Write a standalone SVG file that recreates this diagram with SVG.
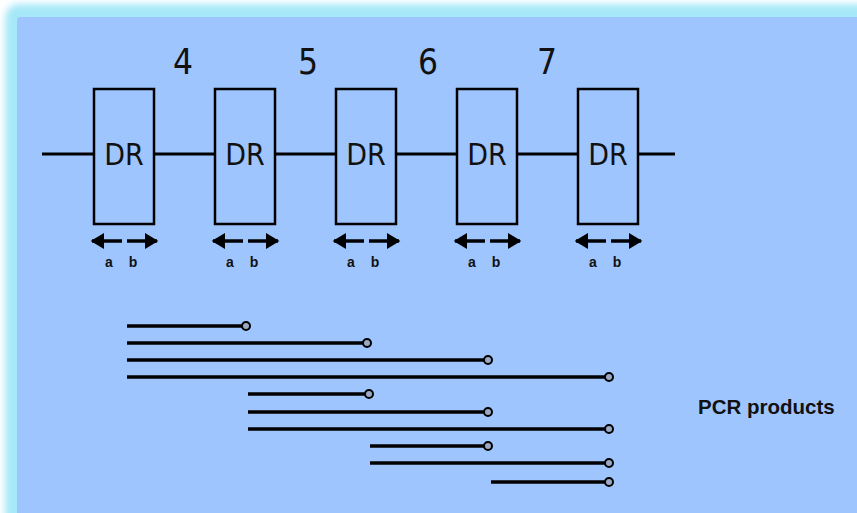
<svg xmlns="http://www.w3.org/2000/svg" width="857" height="513" viewBox="0 0 857 513">
<defs>
<filter id="glow" x="-10%" y="-10%" width="120%" height="120%"><feGaussianBlur stdDeviation="3.5"/></filter>
<marker id="ah" viewBox="0 0 10 12" refX="9" refY="6" markerWidth="4" markerHeight="4.6" orient="auto" markerUnits="strokeWidth"><path d="M0,0 L10,6 L0,12 z" fill="#000"/></marker>
</defs>
<style>
.box{fill:none;stroke:#000;stroke-width:2.5}
.dr{font-family:"DejaVu Sans Condensed","Liberation Sans",sans-serif;font-size:30px;fill:#111;text-anchor:middle}
.num{font-family:"DejaVu Sans Condensed","Liberation Sans",sans-serif;font-size:35px;fill:#111;text-anchor:middle}
.ab{font-family:"Liberation Sans",Arial,sans-serif;font-size:14px;font-weight:bold;fill:#111;text-anchor:middle}
.arr{stroke:#000;stroke-width:3.5;fill:none;marker-end:url(#ah)}
.pcr{stroke:#000;stroke-width:3.5;fill:none}
.end{fill:#9aa9c4;stroke:#000;stroke-width:2}
.lbl{font-family:"Liberation Sans",Arial,sans-serif;font-size:20.5px;font-weight:bold;fill:#111}
</style>
<rect width="857" height="513" fill="#fff"/>
<rect x="5" y="4" width="880" height="540" rx="14" fill="#a6e8f8" filter="url(#glow)"/>
<rect x="17" y="17" width="860" height="520" rx="3" fill="#9fc5fe"/>
<g id="connectors">
<line x1="42" y1="154" x2="94" y2="154" stroke="#000" stroke-width="3"/>
<line x1="154" y1="154" x2="215" y2="154" stroke="#000" stroke-width="3"/>
<line x1="275" y1="154" x2="336" y2="154" stroke="#000" stroke-width="3"/>
<line x1="396" y1="154" x2="457" y2="154" stroke="#000" stroke-width="3"/>
<line x1="517" y1="154" x2="578" y2="154" stroke="#000" stroke-width="3"/>
<line x1="638" y1="154" x2="675" y2="154" stroke="#000" stroke-width="3"/>
</g>
<g id="labels">
<text class="num" x="183" y="74">4</text>
<text class="num" x="308" y="74">5</text>
<text class="num" x="428" y="74">6</text>
<text class="num" x="547" y="74">7</text>
</g>
<g id="dr1"><rect class="box" x="94" y="89" width="60" height="135"/><text class="dr" x="124" y="165">DR</text>
<line class="arr" x1="122" y1="241" x2="92" y2="241"/><line class="arr" x1="127" y1="241" x2="157" y2="241"/>
<text class="ab" x="109" y="267">a</text><text class="ab" x="133" y="267">b</text></g>
<g id="dr2"><rect class="box" x="215" y="89" width="60" height="135"/><text class="dr" x="245" y="165">DR</text>
<line class="arr" x1="243" y1="241" x2="213" y2="241"/><line class="arr" x1="248" y1="241" x2="278" y2="241"/>
<text class="ab" x="230" y="267">a</text><text class="ab" x="254" y="267">b</text></g>
<g id="dr3"><rect class="box" x="336" y="89" width="60" height="135"/><text class="dr" x="366" y="165">DR</text>
<line class="arr" x1="364" y1="241" x2="334" y2="241"/><line class="arr" x1="369" y1="241" x2="399" y2="241"/>
<text class="ab" x="351" y="267">a</text><text class="ab" x="375" y="267">b</text></g>
<g id="dr4"><rect class="box" x="457" y="89" width="60" height="135"/><text class="dr" x="487" y="165">DR</text>
<line class="arr" x1="485" y1="241" x2="455" y2="241"/><line class="arr" x1="490" y1="241" x2="520" y2="241"/>
<text class="ab" x="472" y="267">a</text><text class="ab" x="496" y="267">b</text></g>
<g id="dr5"><rect class="box" x="578" y="89" width="60" height="135"/><text class="dr" x="608" y="165">DR</text>
<line class="arr" x1="606" y1="241" x2="576" y2="241"/><line class="arr" x1="611" y1="241" x2="641" y2="241"/>
<text class="ab" x="593" y="267">a</text><text class="ab" x="617" y="267">b</text></g>
<g id="pcr-products">
<line class="pcr" x1="127" y1="326" x2="242" y2="326" stroke-width="3"/><circle class="end" cx="246" cy="326" r="4"/>
<line class="pcr" x1="127" y1="343" x2="363" y2="343"/><circle class="end" cx="367" cy="343" r="4"/>
<line class="pcr" x1="127" y1="360" x2="484" y2="360"/><circle class="end" cx="488" cy="360" r="4"/>
<line class="pcr" x1="127" y1="377" x2="605" y2="377"/><circle class="end" cx="609" cy="377" r="4"/>
<line class="pcr" x1="248" y1="394" x2="365" y2="394" stroke-width="3"/><circle class="end" cx="369" cy="394" r="4"/>
<line class="pcr" x1="248" y1="412" x2="484" y2="412"/><circle class="end" cx="488" cy="412" r="4"/>
<line class="pcr" x1="248" y1="429" x2="605" y2="429"/><circle class="end" cx="609" cy="429" r="4"/>
<line class="pcr" x1="370" y1="446" x2="484" y2="446" stroke-width="3"/><circle class="end" cx="488" cy="446" r="4"/>
<line class="pcr" x1="370" y1="463" x2="605" y2="463"/><circle class="end" cx="609" cy="463" r="4"/>
<line class="pcr" x1="491" y1="482" x2="605" y2="482" stroke-width="4"/><circle class="end" cx="609" cy="482" r="4"/>
<text class="lbl" x="698" y="414">PCR products</text>
</g>
</svg>
